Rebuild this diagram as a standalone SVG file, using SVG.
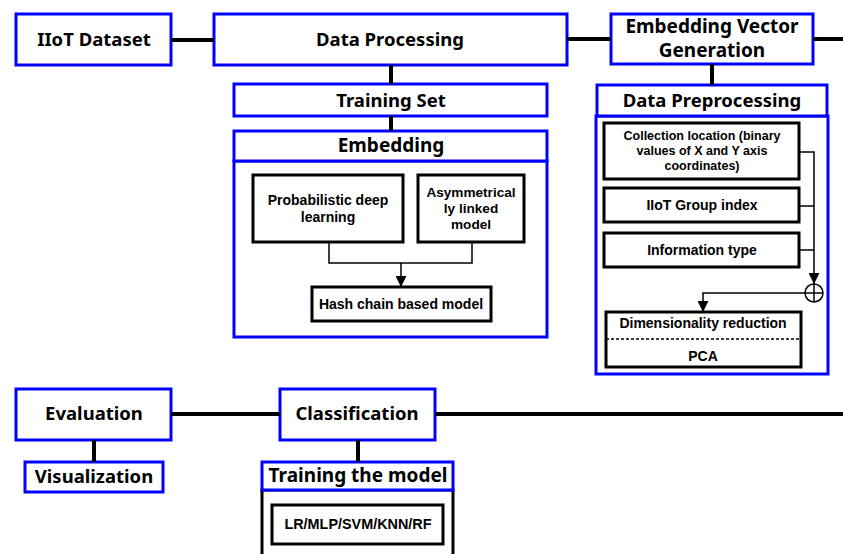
<svg xmlns="http://www.w3.org/2000/svg" width="843" height="554" viewBox="0 0 843 554">
<style>
.b{fill:#fff;stroke:#0000ff;stroke-width:3}
.k{fill:#fff;stroke:#000;stroke-width:3}
.c{stroke:#000;stroke-width:4;fill:none}
.t{stroke:#000;stroke-width:1.5;fill:none}
text{font-family:"Noto Sans","DejaVu Sans",sans-serif;font-weight:bold;fill:#000;text-anchor:middle}
.L{font-size:18.5px}
.S{font-family:"Liberation Sans",Arial,sans-serif;font-size:14px}
.s{font-family:"Liberation Sans",Arial,sans-serif;font-size:12.5px}
</style>
<defs>
<marker id="arr" viewBox="0 0 10 10" refX="10" refY="5" markerWidth="11" markerHeight="11" markerUnits="userSpaceOnUse" orient="auto">
<path d="M0,0 L10,5 L0,10 Z" fill="#000"/>
</marker>
</defs>
<g id="iiot-dataset"><rect class="b" x="16" y="14" width="155" height="51"/><text class="L" x="94" y="46">IIoT Dataset</text></g>
<g id="data-processing"><rect class="b" x="214" y="14" width="353" height="51"/><text class="L" x="390" y="46">Data Processing</text></g>
<g id="embedding-vector-generation"><rect class="b" x="611" y="14" width="202" height="50"/><text class="L" x="712" y="33" style="font-size:19px">Embedding Vector</text><text class="L" x="712" y="57" style="font-size:19px">Generation</text></g>
<g id="training-set"><rect class="b" x="234" y="84" width="313" height="32"/><text class="L" x="391" y="107">Training Set</text></g>
<g id="embedding"><rect class="b" x="234" y="161" width="313" height="176"/><rect class="b" x="234" y="131" width="313" height="30"/><text class="L" x="391" y="152" style="font-size:19px">Embedding</text></g>
<g id="probabilistic"><rect class="k" x="253" y="175" width="150" height="67"/><text class="S" x="328" y="205">Probabilistic deep</text><text class="S" x="328" y="222">learning</text></g>
<g id="asymmetrical"><rect class="k" x="418" y="175" width="106" height="67"/><text class="S" x="471" y="197" style="font-size:13.6px">Asymmetrical</text><text class="S" x="471" y="213" style="font-size:13.6px">ly linked</text><text class="S" x="471" y="229" style="font-size:13.6px">model</text></g>
<g id="hash-chain"><rect class="k" x="312" y="287" width="179" height="34"/><text class="S" x="401" y="309">Hash chain based model</text></g>
<g id="data-preprocessing"><rect class="b" x="596" y="116" width="232" height="258"/><rect class="b" x="597" y="85" width="230" height="31"/><text class="L" x="712" y="107">Data Preprocessing</text></g>
<g id="collection-location"><rect class="k" x="604" y="123" width="195" height="56"/><text class="s" x="702" y="140">Collection location (binary</text><text class="s" x="702" y="155">values of X and Y axis</text><text class="s" x="702" y="170">coordinates)</text></g>
<g id="iiot-group"><rect class="k" x="604" y="188" width="195" height="34"/><text class="S" x="702" y="210">IIoT Group index</text></g>
<g id="information-type"><rect class="k" x="604" y="233" width="195" height="34"/><text class="S" x="702" y="255">Information type</text></g>
<g id="dimensionality"><rect class="k" x="606" y="312" width="195" height="55"/><line x1="606" y1="339" x2="801" y2="339" stroke="#000" stroke-width="1.5" stroke-dasharray="3,2"/><text class="S" x="703" y="328">Dimensionality reduction</text><text class="S" x="703" y="361">PCA</text></g>
<g id="evaluation"><rect class="b" x="16" y="389" width="155" height="51"/><text class="L" x="94" y="420">Evaluation</text></g>
<g id="classification"><rect class="b" x="280" y="389" width="155" height="51"/><text class="L" x="357" y="420">Classification</text></g>
<g id="visualization"><rect class="b" x="25" y="462" width="138" height="30"/><text class="L" x="94" y="483">Visualization</text></g>
<g id="training-model"><rect class="k" x="262" y="490" width="191" height="80"/><rect class="b" x="262" y="462" width="191" height="28"/><text class="L" x="358" y="482" style="font-size:19px">Training the model</text></g>
<g id="lr-mlp"><rect class="k" x="272" y="505" width="171" height="39"/><text class="S" x="358" y="529" style="font-size:14.4px">LR/MLP/SVM/KNN/RF</text></g>
<g id="connectors">
<line class="c" x1="171" y1="40" x2="214" y2="40"/>
<line class="c" x1="567" y1="39" x2="611" y2="39"/>
<line class="c" x1="813" y1="39" x2="843" y2="39"/>
<line class="c" x1="391" y1="65" x2="391" y2="84"/>
<line class="c" x1="391" y1="116" x2="391" y2="131"/>
<line class="c" x1="712" y1="64" x2="712" y2="85"/>
<polyline class="t" points="329,242 329,263 472,263 472,242"/>
<line class="t" x1="401" y1="263" x2="401" y2="287" marker-end="url(#arr)"/>
<polyline class="t" points="799,152 814,152 814,284" marker-end="url(#arr)"/>
<line class="t" x1="799" y1="206" x2="814" y2="206"/>
<line class="t" x1="799" y1="250" x2="814" y2="250"/>
<polyline class="t" points="805,293 703,293 703,312" marker-end="url(#arr)"/>
<line class="c" x1="171" y1="414" x2="280" y2="414"/>
<line class="c" x1="435" y1="414" x2="843" y2="414"/>
<line class="c" x1="94" y1="440" x2="94" y2="462"/>
<line class="c" x1="358" y1="440" x2="358" y2="462"/>
</g>
<g id="sum"><circle cx="814" cy="293" r="9" fill="#fff" stroke="#000" stroke-width="1.5"/><line x1="805" y1="293" x2="823" y2="293" stroke="#000" stroke-width="1.5"/><line x1="814" y1="284" x2="814" y2="302" stroke="#000" stroke-width="1.5"/></g>
</svg>
